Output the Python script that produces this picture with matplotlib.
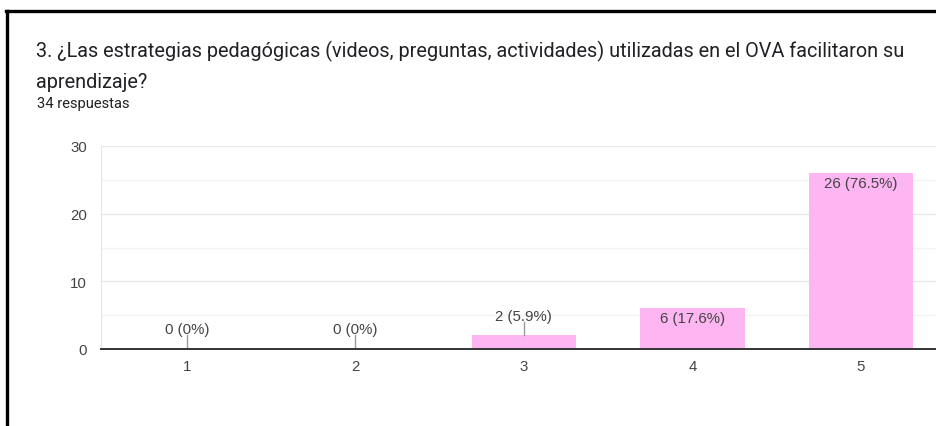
import matplotlib
matplotlib.use("Agg")
import matplotlib.pyplot as plt
from matplotlib.lines import Line2D

# data
categories = ["1", "2", "3", "4", "5"]
counts = [0, 0, 2, 6, 26]
labels = ["0 (0%)", "0 (0%)", "2 (5.9%)", "6 (17.6%)", "26 (76.5%)"]
yticks = [0, 10, 20, 30]

title_1 = "3. ¿Las estrategias pedagógicas (videos, preguntas, actividades) utilizadas en el OVA facilitaron su"
title_2 = "aprendizaje?"
subtitle = "34 respuestas"

W, H = 936, 427
fig = plt.figure(figsize=(W / 100, H / 100), dpi=100)
fig.patch.set_facecolor("white")

# black frame of the screenshot (top and left edges)
fig.add_artist(Line2D([7.5 / W, 7.5 / W], [0, 1 - 11.5 / H], color="black", lw=2.4))
fig.add_artist(Line2D([6 / W, 1], [1 - 11.5 / H, 1 - 11.5 / H], color="black", lw=2.4))

fig.text(36 / W, 1 - 51 / H, title_1, fontsize=14.3, family="Roboto", color="#202124", va="center")
fig.text(36 / W, 1 - 83 / H, title_2, fontsize=14.3, family="Roboto", color="#202124", va="center")
fig.text(37 / W, 1 - 104 / H, subtitle, fontsize=10.6, family="Roboto", color="#202124", va="center")

ax = fig.add_axes([101 / W, 77 / H, 842.5 / W, 203 / H])
x = list(range(1, len(categories) + 1))
ax.bar(x, counts, width=0.62, color="#fdb6f1", zorder=2)
ax.set_xlim(0.49, 5.49)
ax.set_ylim(0, 30)

ax.set_yticks(yticks)
ax.set_yticks([5, 15, 25], minor=True)
ax.set_xticks(x)
ax.set_xticklabels(categories)
ax.tick_params(axis="both", which="both", length=0, labelsize=10.8, labelcolor="#444444")
ax.tick_params(axis="y", pad=10)
ax.tick_params(axis="x", pad=7)
for t in ax.get_yticklabels() + ax.get_xticklabels():
    t.set_family("Liberation Sans")
ax.grid(axis="y", which="major", color="#e8e8e8", lw=1, zorder=0)
ax.grid(axis="y", which="minor", color="#f3f3f3", lw=1, zorder=0)

for s in ["top", "right"]:
    ax.spines[s].set_visible(False)
ax.spines["left"].set_color("#e6e6e6")
ax.spines["bottom"].set_color("#333333")
ax.spines["bottom"].set_linewidth(1.4)
ax.spines["bottom"].set_zorder(3)

for xi, c, lab in zip(x, counts, labels):
    if c < 4:
        ax.plot([xi, xi], [c, c + 2.0], color="#999999", lw=1, zorder=3)
        ax.text(xi, c + 2.95, lab, ha="center", va="center", fontsize=10.8,
                family="Liberation Sans", color="#444444", zorder=4)
    else:
        ax.annotate(lab, (xi, c), xytext=(0, -7), textcoords="offset points",
                    ha="center", va="center", fontsize=10.8, family="Liberation Sans",
                    color="#444444", zorder=4)

fig.savefig("out.png", dpi=100)
